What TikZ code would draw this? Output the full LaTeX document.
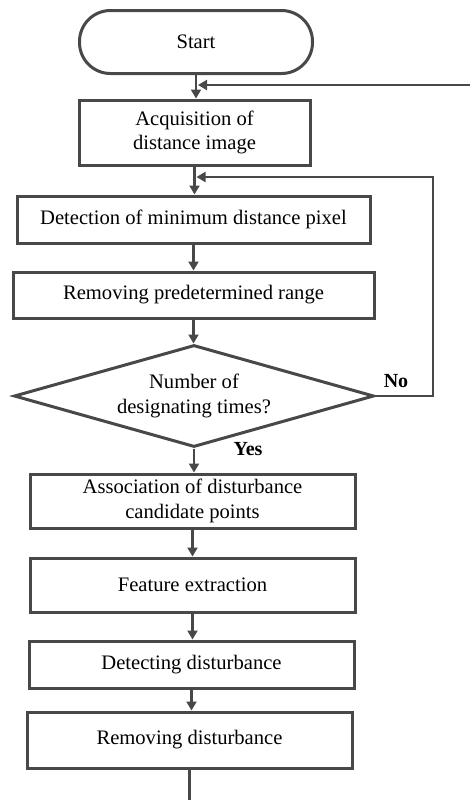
\documentclass[tikz,border=0pt]{standalone}
\usepackage{fontspec}
\setmainfont{Liberation Serif}
\usepackage{tikz}
\usetikzlibrary{arrows.meta}
\usetikzlibrary{shapes.geometric}

\definecolor{lineg}{RGB}{72,72,72}

\tikzset{
    procbox/.style = {draw = lineg, line width = 1.5pt, fill = white,
        align = center, inner sep = 0, text = black},
    flow/.style = {-{Triangle[length = 4.5pt, width = 5pt]}, draw = lineg, line width = 1.4pt},
    back/.style = {-{Triangle[length = 4.5pt, width = 5pt]}, draw = lineg, line width = 1pt},
    answer/.style = {font = \bfseries, text = black, inner sep = 0}
}

\begin{document}
\begin{tikzpicture} [x = 0.5pt, y = -0.5pt, font = \fontsize{10.3}{12.3}\selectfont]
    \useasboundingbox (0, 0) rectangle (470, 800);

    \node[procbox, minimum width = 116.5pt, minimum height = 31.5pt,
        rounded corners = 15.5pt] (start) at (196, 42) {Start};
    \node[procbox, minimum width = 115.5pt, minimum height = 32.5pt]
        (acq) at (194.5, 132.5) {Acquisition of\\distance image};
    \node[procbox, minimum width = 176.5pt, minimum height = 23.5pt]
        (det) at (193.5, 219.5) {Detection of minimum distance pixel};
    \node[procbox, minimum width = 180.5pt, minimum height = 23pt]
        (rem) at (193.5, 295) {Removing predetermined range};
    \node[procbox, diamond, aspect = 3.5, minimum width = 180pt, minimum height = 51pt]
        (times) at (194, 396) {Number of\\designating times?};
    \node[procbox, minimum width = 162.5pt, minimum height = 27pt]
        (assoc) at (192.5, 501) {Association of disturbance\\candidate points};
    \node[procbox, minimum width = 162.5pt, minimum height = 27pt]
        (feat) at (192.5, 585) {Feature extraction};
    \node[procbox, minimum width = 162.5pt, minimum height = 23.5pt]
        (detd) at (191.5, 664.5) {Detecting disturbance};
    \node[procbox, minimum width = 162.5pt, minimum height = 28pt]
        (remd) at (189.5, 740) {Removing disturbance};

    \node[answer] (no) at (396, 381) {No};
    \node[answer] (yes) at (248, 449) {Yes};

    \coordinate (loopin) at (470, 85);
    \coordinate (loopup) at (433, 177);
    \coordinate (endpt) at (189.5, 800);

    % main flow
    \draw[flow] (start.south) -- (start.south |- acq.north);
    \draw[flow] (acq.south) -- (acq.south |- det.north);
    \draw[flow] (det.south) -- (det.south |- rem.north);
    \draw[flow] (rem.south) -- (rem.south |- times.north);
    \draw[flow] (times.south) -- (times.south |- assoc.north);
    \draw[flow] (assoc.south) -- (assoc.south |- feat.north);
    \draw[flow] (feat.south) -- (feat.south |- detd.north);
    \draw[flow] (detd.south) -- (detd.south |- remd.north);
    \draw[draw = lineg, line width = 1.4pt] (remd.south) -- (endpt);

    % loops back
    \draw[back] (loopin) -- ([xshift = 1pt] start.south |- loopin);
    \draw[back] (times.east) -| (loopup) -- ([xshift = 1pt] acq.south |- loopup);
\end{tikzpicture}
\end{document}
